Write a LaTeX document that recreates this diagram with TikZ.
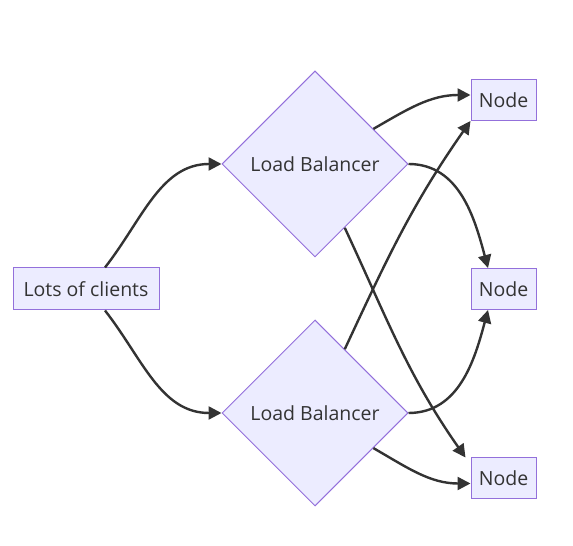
\documentclass[tikz,border=0pt]{standalone}
\usepackage{fontspec}
\setmainfont{Open Sans}
\usetikzlibrary{arrows.meta,shapes.geometric}
\definecolor{boxfill}{HTML}{ECECFF}
\definecolor{boxline}{HTML}{9370DB}
\definecolor{inkgrey}{HTML}{333333}
\tikzset{
	client/.style={draw=boxline, fill=boxfill, line width=1pt, text=inkgrey, minimum width=146pt, minimum height=42pt, inner sep=0pt, font=\fontsize{19.5}{23}\selectfont},
	server/.style={client, minimum width=65pt, minimum height=41pt},
	balancer/.style={draw=boxline, fill=boxfill, line width=1pt, text=inkgrey, diamond, minimum width=186pt, minimum height=186pt, inner sep=0pt, font=\fontsize{19.5}{23}\selectfont},
	link/.style={draw=inkgrey, line width=2.4pt, -{Triangle[length=13pt,width=13pt]}}
}

\begin{document}
\begin{tikzpicture}[x=1pt, y=1pt]
		%%%%% START %%%%%
		\useasboundingbox (0, 0) rectangle (573, 546);
		
		\node[client] (cl) at (86, 257) {Lots of clients};
		
		\node[balancer] (lb1) at (315, 382) {Load Balancer};
		\node[balancer] (lb2) at (315, 133) {Load Balancer};
		
		\node[server] (n1) at (503.5, 446) {Node};
		\node[server] (n2) at (503.5, 257) {Node};
		\node[server] (n3) at (503.5, 67.5) {Node};
		
		\draw[link] ([xshift=19pt]cl.north) to[out=52, in=180] (lb1.west);
		\draw[link] ([xshift=19pt]cl.south) to[out=-52, in=180] (lb2.west);
		
		\draw[link] (lb1.31) to[out=30, in=180] ([yshift=5pt]n1.west);
		\draw[link] (lb1.east) to[out=0, in=105] ([xshift=-15.5pt]n2.north);
		\draw[link] (lb1.-65) to[out=-65, in=125] ([xshift=-5pt]n3.north west);
		
		\draw[link] (lb2.65) to[out=65, in=235] (n1.south west);
		\draw[link] (lb2.east) to[out=0, in=-105] ([xshift=-15.5pt]n2.south);
		\draw[link] (lb2.-31) to[out=-30, in=180] ([yshift=-5pt]n3.west);
		%%%%% END %%%%%
\end{tikzpicture}
\end{document}
